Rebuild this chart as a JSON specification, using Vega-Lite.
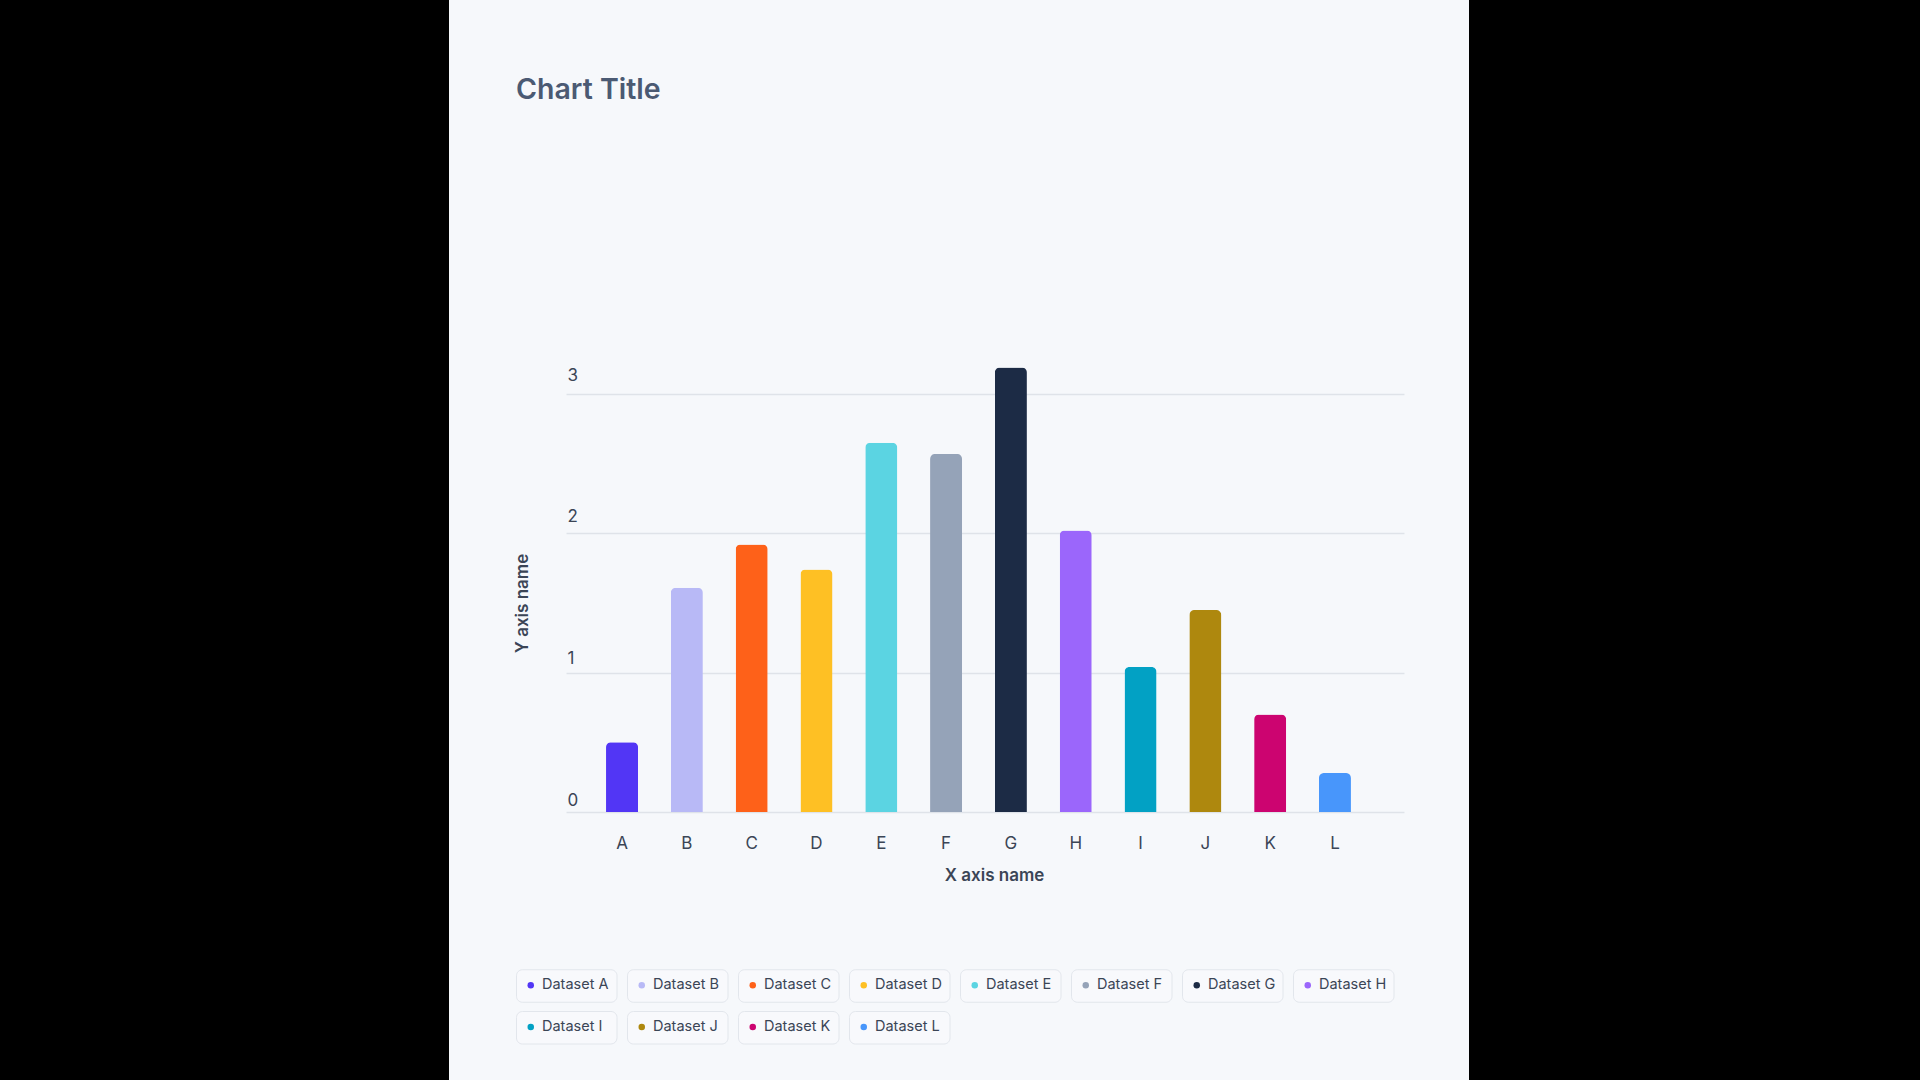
{
  "$schema": "https://vega.github.io/schema/vega-lite/v6.json",
  "width": 1020,
  "height": 1080,
  "autosize": {"type": "none"},
  "padding": {"left": 449, "right": 451, "top": 0, "bottom": 0},
  "background": "#000000",
  "title": {
    "text": "Chart Title",
    "anchor": "start",
    "frame": "group",
    "orient": "top",
    "offset": -127,
    "baseline": "alphabetic",
    "dx": 67,
    "font": "Inter",
    "fontSize": 28.5,
    "fontWeight": 600,
    "color": "#4b5a73"
  },
  "data": {
    "values": [
      {"category": "A", "dataset": "Dataset A", "value": 0.50},
      {"category": "B", "dataset": "Dataset B", "value": 1.61},
      {"category": "C", "dataset": "Dataset C", "value": 1.92},
      {"category": "D", "dataset": "Dataset D", "value": 1.74},
      {"category": "E", "dataset": "Dataset E", "value": 2.65},
      {"category": "F", "dataset": "Dataset F", "value": 2.57},
      {"category": "G", "dataset": "Dataset G", "value": 3.19},
      {"category": "H", "dataset": "Dataset H", "value": 2.02},
      {"category": "I", "dataset": "Dataset I", "value": 1.04},
      {"category": "J", "dataset": "Dataset J", "value": 1.45},
      {"category": "K", "dataset": "Dataset K", "value": 0.70},
      {"category": "L", "dataset": "Dataset L", "value": 0.28}
    ]
  },
  "mark": {"type": "bar", "cornerRadiusTopLeft": 5, "cornerRadiusTopRight": 5},
  "encoding": {
    "x": {
      "field": "category",
      "type": "nominal",
      "sort": null,
      "scale": {"range": [117, 955], "paddingInner": 0.506, "paddingOuter": 0.718, "align": 0.43},
      "axis": {
        "orient": "bottom",
        "offset": -268,
        "domain": false,
        "ticks": false,
        "labelAngle": 0,
        "labelPadding": 23,
        "labelFontSize": 17,
        "labelColor": "#3b4556",
        "title": "X axis name",
        "titleFontSize": 17,
        "titleFontWeight": 600,
        "titleColor": "#3b4556",
        "titleX": 545,
        "titleY": 68,
        "titleBaseline": "alphabetic"
      }
    },
    "y": {
      "field": "value",
      "type": "quantitative",
      "scale": {"domain": [0, 3], "range": [812, 394], "nice": false},
      "axis": {
        "orient": "left",
        "offset": -117,
        "values": [0, 1, 2, 3],
        "grid": true,
        "gridColor": "#dfe3e9",
        "gridWidth": 1.5,
        "domain": false,
        "ticks": false,
        "tickSize": 0,
        "labelAlign": "left",
        "labelPadding": -1,
        "labelBaseline": "alphabetic",
        "labelOffset": {"expr": "-7 - 2.33 * datum.value"},
        "labelFontSize": 17,
        "labelColor": "#3b4556",
        "title": "Y axis name",
        "titleFontSize": 17,
        "titleFontWeight": 600,
        "titleColor": "#3b4556",
        "titleX": -38.5,
        "titleY": 603,
        "titleBaseline": "alphabetic"
      }
    },
    "color": {
      "field": "dataset",
      "type": "nominal",
      "scale": {
        "domain": ["Dataset A", "Dataset B", "Dataset C", "Dataset D", "Dataset E", "Dataset F", "Dataset G", "Dataset H", "Dataset I", "Dataset J", "Dataset K", "Dataset L"],
        "range": ["#5236f5", "#b8b9f6", "#fe6119", "#fec024", "#5bd4e2", "#95a3b8", "#1c2b45", "#9b66fb", "#02a1c4", "#ae880e", "#cc0470", "#4896fb"]
      },
      "legend": {
        "orient": "none",
        "legendX": 67,
        "legendY": 969,
        "direction": "horizontal",
        "title": null,
        "padding": 0,
        "columns": 8,
        "columnPadding": 9,
        "rowPadding": 8,
        "symbolType": "circle",
        "symbolSize": 42,
        "symbolStrokeWidth": 0,
        "symbolOffset": 7.5,
        "labelOffset": 4,
        "labelFont": "Inter",
        "labelFontSize": 14.5,
        "labelColor": "#3b4556",
        "clipHeight": 32,
        "encoding": {
          "entries": {
            "width": {"value": 100},
            "fill": {"value": "#f8f9fc"},
            "stroke": {"value": "#e2e6ec"},
            "strokeWidth": {"value": 1},
            "cornerRadius": {"value": 6}
          }
        }
      }
    }
  },
  "config": {
    "font": "Inter",
    "view": {"fill": "#f6f8fb", "stroke": null}
  }
}
